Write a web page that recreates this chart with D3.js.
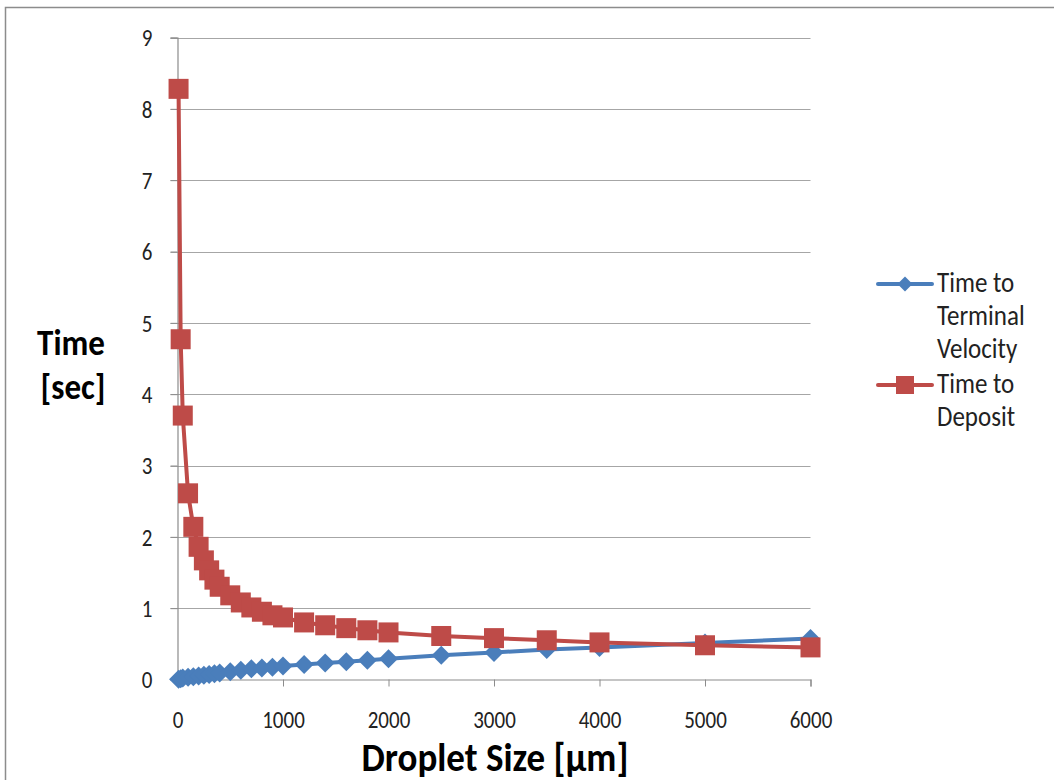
<!DOCTYPE html>
<html>
<head>
<meta charset="utf-8">
<script src="https://cdn.jsdelivr.net/npm/d3@7/dist/d3.min.js"></script>
<style>
  html, body { margin: 0; padding: 0; background: #fff; }
  svg { display: block; }
  text { font-family: Carlito, "Liberation Sans", sans-serif; }
</style>
</head>
<body>
<svg id="chart" width="1054" height="780"></svg>
<script>
// Droplet diameters (µm)
const dropletSize = [10, 30, 50, 100, 150, 200, 250, 300, 350, 400, 500, 600, 700, 800, 900,
  1000, 1200, 1400, 1600, 1800, 2000, 2500, 3000, 3500, 4000, 5000, 6000];
// Time to reach terminal velocity (s)
const timeTerminal = [0.005, 0.01, 0.02, 0.03, 0.04, 0.05, 0.06, 0.07, 0.08, 0.09, 0.11, 0.13, 0.15, 0.16, 0.17,
  0.19, 0.21, 0.23, 0.25, 0.27, 0.29, 0.34, 0.38, 0.42, 0.45, 0.51, 0.575];
// Time to deposit (s)
const timeDeposit = [8.28, 4.77, 3.70, 2.61, 2.14, 1.86, 1.67, 1.53, 1.40, 1.30, 1.18, 1.08, 1.01, 0.95, 0.90,
  0.87, 0.80, 0.76, 0.72, 0.69, 0.66, 0.61, 0.58, 0.55, 0.52, 0.48, 0.45];

const xTicks = [0, 1000, 2000, 3000, 4000, 5000, 6000];
const yTicks = [0, 1, 2, 3, 4, 5, 6, 7, 8, 9];
const legendLabels = [["Time to", "Terminal", "Velocity"], ["Time to", "Deposit"]];

const svg = d3.select("#chart");
const blue = "#4a7ebb", red = "#be4b48";
const stretch = 1.15;   // text is drawn slightly taller than wide
const titleStretch = 1.08;

// chart frame
svg.append("rect").attr("x", 5.5).attr("y", 7.5).attr("width", 1100).attr("height", 900)
  .attr("fill", "#fff").attr("stroke", "#8c8c8c").attr("stroke-width", 1.5);

const x = d3.scaleLinear().domain([0, 6000]).range([177.5, 810.5]);
const y = d3.scaleLinear().domain([0, 9]).range([679.5, 37.5]);

// horizontal gridlines
svg.append("g").selectAll("line").data(yTicks.slice(1)).join("line")
  .attr("x1", x(0) - 7).attr("x2", x(6000))
  .attr("y1", d => Math.round(y(d)) + 0.5).attr("y2", d => Math.round(y(d)) + 0.5)
  .attr("stroke", "#a6a6a6").attr("stroke-width", 1.2);

// y axis
const yAxis = svg.append("g").attr("transform", `translate(${x(0)},0)`)
  .call(d3.axisLeft(y).tickValues(yTicks).tickSize(7).tickFormat(d3.format("d")));
yAxis.select(".domain").attr("stroke", "#8c8c8c").attr("stroke-width", 1.2);
yAxis.selectAll(".tick line").attr("stroke", "#8c8c8c");
yAxis.selectAll(".tick text")
  .attr("font-size", 21).attr("fill", "#222")
  .attr("x", null).attr("dy", "0.35em")
  .attr("transform", `translate(-25,0) scale(1,${stretch})`);

// x axis
const xAxis = svg.append("g").attr("transform", `translate(0,${y(0)})`)
  .call(d3.axisBottom(x).tickValues(xTicks).tickSize(7).tickFormat(d3.format("d")));
xAxis.select(".domain").attr("stroke", "#8c8c8c").attr("stroke-width", 1.2);
xAxis.selectAll(".tick line").attr("stroke", "#8c8c8c");
xAxis.selectAll(".tick text")
  .attr("font-size", 21).attr("fill", "#222")
  .attr("y", 0).attr("dy", null)
  .attr("transform", `translate(0,48) scale(1,${stretch})`);

// axis titles
svg.append("text").attr("transform", `translate(495,771) scale(1,${titleStretch})`).attr("text-anchor", "middle")
  .attr("font-size", 37).attr("font-weight", "bold").attr("fill", "#000").text("Droplet Size [µm]");
svg.append("text").attr("transform", `translate(71,355) scale(1,${titleStretch})`).attr("text-anchor", "middle")
  .attr("font-size", 33).attr("font-weight", "bold").attr("fill", "#000").text("Time");
svg.append("text").attr("transform", `translate(73,399) scale(1,${titleStretch})`).attr("text-anchor", "middle")
  .attr("font-size", 33).attr("font-weight", "bold").attr("fill", "#000").text("[sec]");

const line = d3.line().x(d => x(d[0])).y(d => y(d[1]));
const blueData = dropletSize.map((d, i) => [d, timeTerminal[i]]);
const redData = dropletSize.map((d, i) => [d, timeDeposit[i]]);

const diamond = (g, cx, cy, s) => g.append("path")
  .attr("d", `M${cx},${cy - s}L${cx + s},${cy}L${cx},${cy + s}L${cx - s},${cy}Z`);

// Time to Terminal Velocity
svg.append("path").datum(blueData).attr("d", line)
  .attr("fill", "none").attr("stroke", blue).attr("stroke-width", 4).attr("stroke-linejoin", "round");
const gb = svg.append("g").attr("fill", blue);
blueData.forEach(d => diamond(gb, x(d[0]), y(d[1]), 9.5));

// Time to Deposit
svg.append("path").datum(redData).attr("d", line)
  .attr("fill", "none").attr("stroke", red).attr("stroke-width", 4).attr("stroke-linejoin", "round");
svg.append("g").selectAll("rect").data(redData).join("rect")
  .attr("x", d => x(d[0]) - 10).attr("y", d => y(d[1]) - 10)
  .attr("width", 20).attr("height", 20).attr("fill", red);

// legend
const lg = svg.append("g");
lg.append("line").attr("x1", 878).attr("x2", 932).attr("y1", 284).attr("y2", 284)
  .attr("stroke", blue).attr("stroke-width", 4).attr("stroke-linecap", "round");
diamond(lg, 905, 284, 7.5).attr("fill", blue);
lg.append("line").attr("x1", 878).attr("x2", 932).attr("y1", 385).attr("y2", 385)
  .attr("stroke", red).attr("stroke-width", 4).attr("stroke-linecap", "round");
lg.append("rect").attr("x", 896).attr("y", 376).attr("width", 18).attr("height", 18).attr("fill", red);

const legendRows = [
  [legendLabels[0][0], 292], [legendLabels[0][1], 325], [legendLabels[0][2], 358],
  [legendLabels[1][0], 393], [legendLabels[1][1], 426]
];
lg.selectAll("text.lbl").data(legendRows).join("text").attr("class", "lbl")
  .attr("transform", d => `translate(937,${d[1]}) scale(1,${stretch})`)
  .attr("font-size", 25).attr("fill", "#222")
  .text(d => d[0]);
</script>
</body>
</html>
